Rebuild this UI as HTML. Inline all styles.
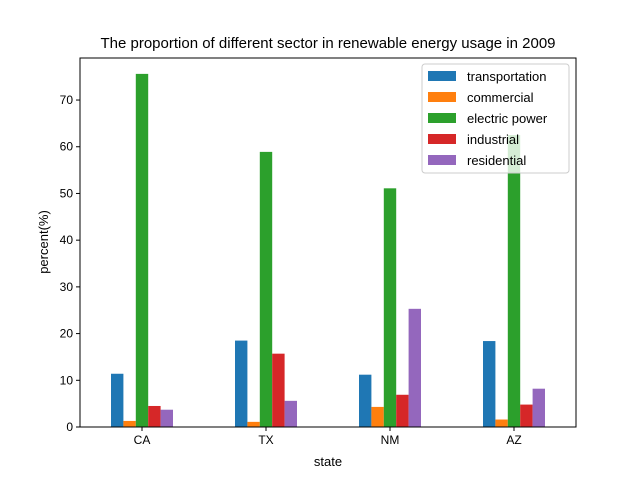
<!DOCTYPE html>
<html><head><meta charset="utf-8"><style>
body{margin:0;background:#fff;}
svg{font-family:"Liberation Sans",sans-serif;}
</style></head><body>
<svg id="c" width="640" height="480"></svg>
<script>
const categories=["CA","TX","NM","AZ"];
const seriesNames=["transportation","commercial","electric power","industrial","residential"];
const transportation=[11.4,18.5,11.2,18.4];
const commercial=[1.3,1.1,4.3,1.6];
const electricPower=[75.6,58.9,51.1,62.5];
const industrial=[4.5,15.7,6.9,4.8];
const residential=[3.7,5.6,25.3,8.2];
const yTicks=[0,10,20,30,40,50,60,70];
const series=[transportation,commercial,electricPower,industrial,residential];
const colors=["#1f77b4","#ff7f0e","#2ca02c","#d62728","#9467bd"];
const L=80,R=576,T=58,B=427,yMax=79;
const NS="http://www.w3.org/2000/svg";
const svg=document.getElementById("c");
function el(t,a,p){const e=document.createElementNS(NS,t);for(const k in a)e.setAttribute(k,a[k]);(p||svg).appendChild(e);return e;}
const xs=i=>L+(i+0.5)*(R-L)/categories.length;
const ys=v=>B-v*(B-T)/yMax;
const unit=(R-L)/categories.length;
series.forEach((s,si)=>{s.forEach((v,ci)=>{
  const bw=unit*0.1;const x=xs(ci)-unit*0.25+si*bw;
  const r=el("rect",{x:x,y:ys(v),width:bw,height:B-ys(v),fill:colors[si]});
  
  
});});
el("rect",{x:L,y:T,width:R-L,height:B-T,fill:"none",stroke:"#000","stroke-width":1});
yTicks.forEach(t=>{
  el("line",{x1:L-4,x2:L,y1:ys(t),y2:ys(t),stroke:"#000"});
  const tx=el("text",{x:L-7,y:ys(t)+4,"text-anchor":"end","font-size":12});tx.textContent=t;
  
  
});
categories.forEach((c,i)=>{
  el("line",{x1:xs(i),x2:xs(i),y1:B,y2:B+4,stroke:"#000"});
  const tx=el("text",{x:xs(i),y:B+17,"text-anchor":"middle","font-size":12});tx.textContent=c;
  
  
});
let t=el("text",{x:328,y:466,"text-anchor":"middle","font-size":13});t.textContent="state";

t=el("text",{x:48,y:242,"text-anchor":"middle","font-size":13,transform:"rotate(-90 48 242)"});t.textContent="percent(%)";

t=el("text",{x:328,y:48,"text-anchor":"middle","font-size":15});t.textContent="The proportion of different sector in renewable energy usage in 2009";

const lg=el("g",{});

el("rect",{x:422,y:64,width:147,height:109,rx:3,fill:"#fff","fill-opacity":0.8,stroke:"#ccc"},lg);
seriesNames.forEach((n,i)=>{
  const y=76+i*21;
  el("rect",{x:428,y:y-5,width:28,height:10,fill:colors[i]},lg);
  const tx=el("text",{x:467,y:y+5,"font-size":13},lg);tx.textContent=n;
  
});
</script>
</body></html>
